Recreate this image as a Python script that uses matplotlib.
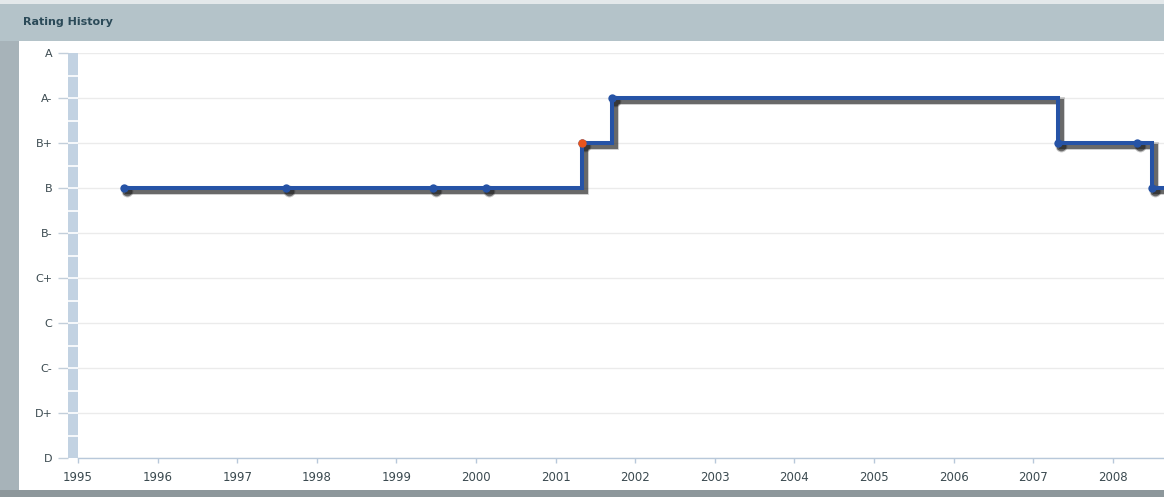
import numpy as np
from matplotlib import pyplot as plt
from matplotlib.patches import Rectangle
import matplotlib.transforms as mtransforms

# rating history (decimal years, rating index: D=0 ... A=9)
grades = ["D", "D+", "C-", "C", "C+", "B-", "B", "B+", "A-", "A"]
dates = [1995.58, 1997.61, 1999.46, 2000.12, 2001.33, 2001.71, 2007.31, 2008.31, 2008.49]
ratings = [6, 6, 6, 6, 7, 8, 7, 7, 6]
highlight_idx = 4
years = list(range(1995, 2009))
x_end = 2008.643

W, H = 1164, 497
fig = plt.figure(figsize=(W / 100, H / 100), dpi=100)
fig.patch.set_facecolor("#a7b3b9")

def px(x0, y0, w, h):
    # pixel box (top-left origin) -> figure fraction
    return [x0 / W, 1 - (y0 + h) / H, w / W, h / H]

def frame_rect(x0, y0, w, h, color):
    b = px(x0, y0, w, h)
    fig.add_artist(Rectangle((b[0], b[1]), b[2], b[3], transform=fig.transFigure,
                             facecolor=color, edgecolor="none", zorder=0))

frame_rect(0, 0, W, 4, "#e3e8ea")
frame_rect(0, 4, W, 37, "#b4c3c9")
frame_rect(19, 41, W - 19, 449, "white")
frame_rect(0, 490, W, 7, "#8d979b")
fig.text(23 / W, 1 - 22 / H, "Rating History", fontsize=8, fontweight="bold",
         color="#2b4a58", va="center", ha="left")

# left rating band
bar = fig.add_axes(px(68, 53, 9.5, 405))
bar.set_facecolor("#c2d2e2")
bar.set_ylim(0, 9)
bar.set_xlim(0, 1)
for s in bar.spines.values():
    s.set_visible(False)
bar.hlines(np.arange(0.5, 9, 0.5), 0, 1, color="white", lw=1.2)
bar.set_xticks([])
bar.set_yticks(range(10))
bar.set_yticklabels(grades)
bar.tick_params(axis="y", length=7.2, width=1, color="#c3cfdb", pad=4,
                labelsize=8, labelcolor="#3b4a50")

ax = fig.add_axes(px(78, 53, W - 78, 405))
ax.set_facecolor("none")
ax.set_xlim(1995, x_end)
ax.set_ylim(0, 9)
for s in ["left", "top", "right"]:
    ax.spines[s].set_visible(False)
ax.spines["bottom"].set_color("#b8c8da")
ax.spines["bottom"].set_linewidth(1)
ax.set_yticks(range(10))
ax.tick_params(axis="y", length=0, labelleft=False)
ax.set_xticks(years)
ax.set_xticklabels([str(y) for y in years])
ax.tick_params(axis="x", length=3.6, width=1, color="#b8c8da", pad=6,
               labelsize=8.5, labelcolor="#3b4a50")
ax.grid(axis="y", color="#ebebeb", lw=1)
ax.set_axisbelow(True)

xs = dates + [x_end]
ys = ratings + [ratings[-1]]

# soft drop shadow, offset down-right
for dx, lw, ms, a in [(3, 5.5, 8.5, 0.25), (3, 3.6, 7, 0.55)]:
    tr = mtransforms.offset_copy(ax.transData, fig=fig, x=dx, y=-dx, units="dots")
    ax.plot(xs, ys, drawstyle="steps-post", color="#1e1e1e", lw=lw, alpha=a,
            solid_joinstyle="miter", transform=tr, zorder=2)
    ax.plot(dates, ratings, "o", color="#1e1e1e", ms=ms, mew=0, alpha=a,
            transform=tr, zorder=2)

ax.plot(xs, ys, drawstyle="steps-post", color="#2653a6", lw=2.9,
        solid_joinstyle="miter", zorder=3)
ax.plot(dates, ratings, "o", color="#2653a6", ms=6, mew=0, zorder=4)
ax.plot([dates[highlight_idx]], [ratings[highlight_idx]], "o", color="#e8541c",
        ms=6, mew=0, zorder=5)

fig.savefig("out.png", dpi=100, facecolor=fig.get_facecolor())
